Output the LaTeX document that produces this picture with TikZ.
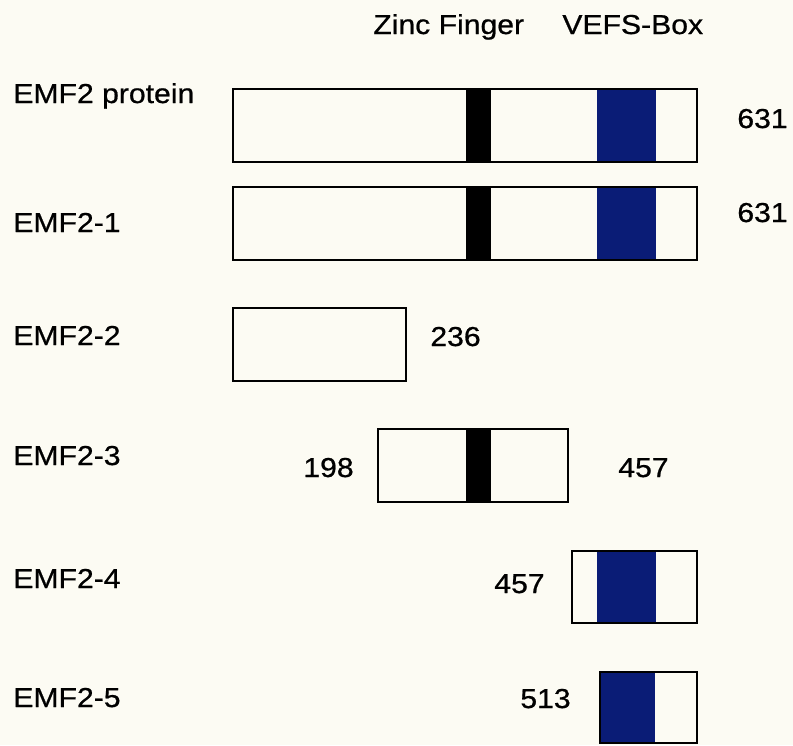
\documentclass[tikz,border=0pt]{standalone}
\usepackage{fontspec}
\setmainfont[FakeStretch=1.1,FakeBold=0.7]{Liberation Sans}
\usetikzlibrary{fit}

\definecolor{paper}{RGB}{252,251,243}
\definecolor{vefsblue}{RGB}{10,28,118}

\begin{document}
\begin{tikzpicture}[
  x=0.02cm, y=-0.02cm,
  font=\fontsize{15.6}{18}\selectfont,
  protbox/.style={
    rectangle, draw=black, line width=1.1pt,
    inner sep=0pt, outer sep=0pt
  },
  zinc/.style={fill=black},
  vefs/.style={fill=vefsblue},
  rowlbl/.style={anchor=base west, inner sep=0pt},
  numlbl/.style={anchor=base west, inner sep=0pt}
]

\path[use as bounding box, fill=paper] (0,0) rectangle (793,745);

% domain headings
\node[rowlbl] (zfhead) at (373,34) {Zinc Finger};
\node[rowlbl] (vefshead) at (562,34) {VEFS-Box};

% domains
\fill[zinc] (466,89) rectangle (491,162);
\fill[vefs] (597,89) rectangle (656,162);
\fill[zinc] (466,187) rectangle (491,260);
\fill[vefs] (597,187) rectangle (656,260);
\fill[zinc] (466,429) rectangle (491,502);
\fill[vefs] (597,551) rectangle (656,623);
\fill[vefs] (600,672) rectangle (655,743);

% protein outlines
\node[protbox, fit={(233,89) (697,162)}] (prot) {};
\node[protbox, fit={(233,187) (697,260)}] (emfa) {};
\node[protbox, fit={(233,308) (406,381)}] (emfb) {};
\node[protbox, fit={(378,429) (568,502)}] (emfc) {};
\node[protbox, fit={(572,551) (697,623)}] (emfd) {};
\node[protbox, fit={(600,672) (697,743)}] (emfe) {};

% row names
\node[rowlbl] (lprot) at (13,103) {EMF2 protein};
\node[rowlbl] (la) at (13,232) {EMF2-1};
\node[rowlbl] (lb) at (13,345) {EMF2-2};
\node[rowlbl] (lc) at (13,465) {EMF2-3};
\node[rowlbl] (ld) at (13,588) {EMF2-4};
\node[rowlbl] (le) at (13,707) {EMF2-5};

% residue numbers
\node[numlbl] (nprot) at (737,128) {631};
\node[numlbl] (na) at (737,222) {631};
\node[numlbl] (nb) at (430,346) {236};
\node[numlbl] (nc1) at (303,477) {198};
\node[numlbl] (nc2) at (618,477) {457};
\node[numlbl] (nd) at (494,593) {457};
\node[numlbl] (ne) at (520,708) {513};

\end{tikzpicture}
\end{document}
